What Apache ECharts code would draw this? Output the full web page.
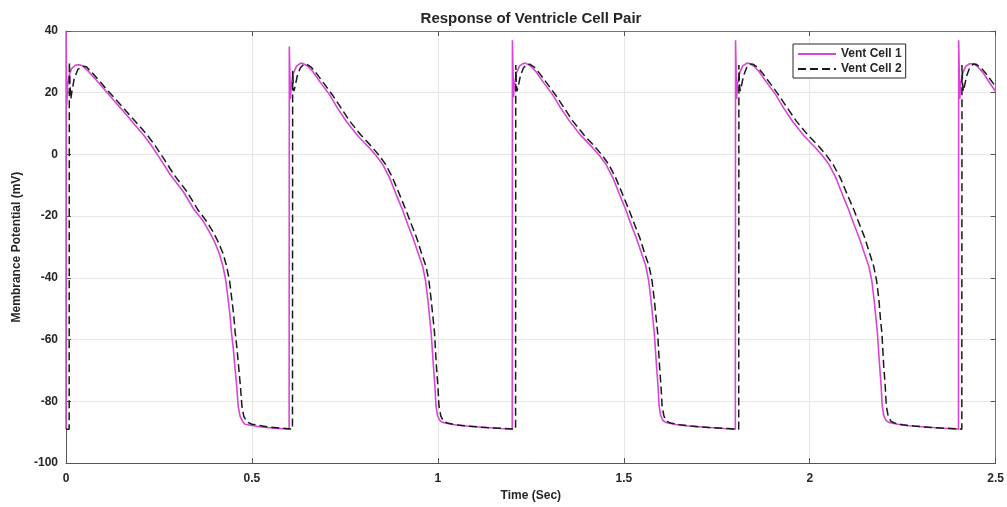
<!DOCTYPE html>
<html>
<head>
<meta charset="utf-8">
<script src="https://cdn.jsdelivr.net/npm/echarts@6/dist/echarts.min.js"></script>
<style>
  html, body { margin: 0; padding: 0; background: #ffffff; }
  #chart { width: 1007px; height: 507px; }
</style>
</head>
<body>
<div id="chart"></div>
<script>
// Membrane potential of a coupled pair of ventricular cells (time in s, potential in mV)

// Vent Cell 1
const cell1Time = [
  // beat 1
  0, 0.0003, 0.002, 0.004, 0.008, 0.015, 0.025, 0.035, 0.045, 0.060, 0.080, 0.100, 0.130, 0.163, 0.185,
  0.208, 0.230, 0.252, 0.280, 0.315, 0.345, 0.369, 0.387, 0.400, 0.412, 0.422, 0.430, 0.436, 0.441,
  0.445, 0.450, 0.454, 0.459, 0.463, 0.468, 0.475, 0.481, 0.520, 0.560, 0.600,
  // beat 2
  0.6005, 0.6035, 0.606, 0.612, 0.620, 0.630, 0.637, 0.650, 0.664, 0.685, 0.709, 0.730, 0.754, 0.785,
  0.816, 0.835, 0.852, 0.870, 0.888, 0.905, 0.919, 0.933, 0.947, 0.959, 0.967, 0.973, 0.978, 0.982,
  0.988, 0.992, 0.995, 0.999, 1.005, 1.013, 1.040, 1.067, 1.120, 1.170, 1.200,
  // beat 3
  1.2005, 1.2035, 1.206, 1.212, 1.220, 1.230, 1.237, 1.250, 1.264, 1.285, 1.309, 1.330, 1.354, 1.385,
  1.416, 1.435, 1.452, 1.470, 1.488, 1.505, 1.519, 1.533, 1.547, 1.559, 1.567, 1.573, 1.578, 1.582,
  1.588, 1.592, 1.595, 1.599, 1.605, 1.613, 1.640, 1.667, 1.720, 1.770, 1.800,
  // beat 4
  1.8005, 1.8035, 1.806, 1.812, 1.820, 1.830, 1.837, 1.850, 1.864, 1.885, 1.909, 1.930, 1.954, 1.985,
  2.016, 2.035, 2.052, 2.070, 2.088, 2.105, 2.119, 2.133, 2.147, 2.159, 2.167, 2.173, 2.178, 2.182,
  2.188, 2.192, 2.195, 2.199, 2.205, 2.213, 2.240, 2.267, 2.320, 2.370, 2.400,
  // beat 5
  2.4005, 2.4035, 2.406, 2.412, 2.420, 2.430, 2.440, 2.452, 2.466, 2.485, 2.500
];
const cell1Mv = [
  // beat 1
  -89, 40, 16, 22, 25.5, 27.8, 28.9, 29.1, 28.7, 27, 24.3, 21.5, 17.3, 12.8, 9.6,
  6.4, 2.8, -1.2, -6.5, -12, -18, -21.6, -25.4, -28.5, -32, -36.2, -41, -47, -52,
  -57.7, -63, -68.5, -75, -81.5, -84.8, -86.5, -87.4, -88.2, -88.7, -89,
  // beat 2
  35, 18, 23, 26.5, 28.6, 29.5, 29.5, 28.6, 26.8, 23.2, 19.3, 15.0, 10.7, 6.0,
  2.1, -0.5, -3.3, -7.5, -13, -18, -22.7, -27, -32, -36.2, -41, -47, -53, -57.8,
  -68.5, -75, -81.5, -84.5, -86.2, -86.8, -87.5, -87.9, -88.4, -88.8, -89,
  // beat 3
  37, 18.5, 23, 26.6, 28.7, 29.5, 29.5, 28.6, 26.8, 23.2, 19.3, 15.1, 10.8, 6.1,
  2.2, -0.4, -3.2, -7.4, -12.8, -17.8, -22.5, -26.8, -31.8, -36, -41, -47, -53, -57.8,
  -68.5, -75, -81.5, -84.5, -86.2, -86.8, -87.5, -87.9, -88.4, -88.8, -89,
  // beat 4
  37, 18, 23, 26.6, 28.7, 29.5, 29.5, 28.6, 26.8, 23.2, 19.3, 15.0, 10.7, 6.0,
  2.1, -0.5, -3.3, -7.5, -13, -18, -22.7, -27, -32, -36.2, -41, -47, -53, -57.8,
  -68.5, -75, -81.5, -84.5, -86.2, -86.8, -87.5, -87.9, -88.4, -88.8, -89,
  // beat 5
  37, 18, 23, 26.5, 28.6, 29.4, 29.4, 28.4, 26.5, 23, 20.4
];

// Vent Cell 2
const cell2Time = [
  // beat 1
  0, 0.0085, 0.009, 0.011, 0.013, 0.016, 0.022, 0.032, 0.045, 0.055, 0.070, 0.090, 0.110, 0.140, 0.172,
  0.195, 0.218, 0.240, 0.262, 0.290, 0.325, 0.355, 0.380, 0.397, 0.410, 0.422, 0.432, 0.440, 0.446,
  0.451, 0.455, 0.460, 0.464, 0.469, 0.473, 0.478, 0.486, 0.500, 0.540, 0.580, 0.609,
  // beat 2
  0.6095, 0.611, 0.613, 0.616, 0.622, 0.630, 0.640, 0.648, 0.660, 0.672, 0.695, 0.718, 0.740, 0.763,
  0.793, 0.823, 0.842, 0.860, 0.878, 0.897, 0.914, 0.929, 0.943, 0.956, 0.968, 0.976, 0.982, 0.987,
  0.991, 0.996, 1.000, 1.003, 1.008, 1.015, 1.025, 1.050, 1.080, 1.130, 1.180, 1.209,
  // beat 3
  1.2095, 1.211, 1.213, 1.216, 1.222, 1.230, 1.240, 1.248, 1.260, 1.272, 1.295, 1.318, 1.340, 1.363,
  1.393, 1.423, 1.442, 1.460, 1.478, 1.497, 1.514, 1.529, 1.543, 1.556, 1.568, 1.576, 1.582, 1.587,
  1.591, 1.596, 1.600, 1.603, 1.608, 1.615, 1.625, 1.650, 1.680, 1.730, 1.780, 1.809,
  // beat 4
  1.8095, 1.811, 1.813, 1.816, 1.822, 1.830, 1.840, 1.848, 1.860, 1.872, 1.895, 1.918, 1.940, 1.964,
  1.995, 2.026, 2.045, 2.063, 2.082, 2.101, 2.119, 2.134, 2.148, 2.161, 2.172, 2.180, 2.186, 2.190,
  2.194, 2.199, 2.203, 2.206, 2.211, 2.218, 2.228, 2.250, 2.280, 2.330, 2.380, 2.409,
  // beat 5
  2.4095, 2.411, 2.413, 2.416, 2.422, 2.430, 2.440, 2.448, 2.460, 2.472, 2.495, 2.500
];
const cell2Mv = [
  // beat 1
  -89, -89, 30, 22, 18, 20.5, 24.5, 27.6, 28.6, 28.4, 26.5, 23.8, 21, 17, 12.6,
  9.6, 6.4, 2.8, -1.2, -6.5, -12, -18, -22, -25.4, -28.5, -32, -36.2, -41, -47,
  -52, -57.7, -63, -68.5, -75, -81.5, -84.8, -86.6, -87.4, -88.2, -88.7, -89,
  // beat 2
  27, 23, 20.5, 22, 25.5, 28, 29.3, 29.2, 28.2, 26.5, 22.8, 19.0, 15.0, 10.8,
  6.3, 2.4, -0.3, -3.3, -7.5, -13, -18, -22.7, -27, -32, -36.2, -41, -47, -53,
  -57.8, -68.5, -75, -81.5, -84.8, -86.4, -87.0, -87.6, -88.0, -88.5, -88.8, -89,
  // beat 3
  29, 23, 20.5, 22, 25.5, 28, 29.3, 29.2, 28.2, 26.5, 22.8, 19.0, 15.0, 10.8,
  6.3, 2.4, -0.3, -3.3, -7.5, -13, -18, -22.7, -27, -32, -36.2, -41, -47, -53,
  -57.8, -68.5, -75, -81.5, -84.8, -86.4, -87.0, -87.6, -88.0, -88.5, -88.8, -89,
  // beat 4
  29, 23, 20.5, 22, 25.5, 28, 29.3, 29.2, 28.2, 26.5, 22.8, 19.0, 15.0, 10.8,
  6.3, 2.4, -0.3, -3.3, -7.5, -13, -18, -22.7, -27, -32, -36.2, -41, -47, -53,
  -57.8, -68.5, -75, -81.5, -84.8, -86.4, -87.0, -87.6, -88.0, -88.5, -88.8, -89,
  // beat 5
  29, 23, 20.5, 22, 25.5, 28, 29.3, 29.2, 28.2, 26.5, 22.8, 22
];

const seriesNames = ['Vent Cell 1', 'Vent Cell 2'];
const xTicks = { min: 0, max: 2.5, step: 0.5 };
const yTicks = { min: -100, max: 40, step: 20 };

const pairs = (ts, vs) => ts.map((t, i) => [t, vs[i]]);

const FONT = "'Liberation Sans', Arial, Helvetica, sans-serif";
const AX = '#555555';
const TXT = '#262626';

const labelStyle = { color: TXT, fontFamily: FONT, fontWeight: 'bold', fontSize: 12 };

function mainAxis(range, extra) {
  return Object.assign({
    type: 'value',
    min: range.min, max: range.max, interval: range.step,
    axisLine: { show: true, onZero: false, lineStyle: { color: AX, width: 1 } },
    axisTick: { show: true, inside: true, length: 5, lineStyle: { color: AX } },
    splitLine: { show: true, lineStyle: { color: '#e6e6e6', width: 1 } },
    axisLabel: Object.assign({ margin: 8 }, labelStyle),
    nameTextStyle: { color: TXT, fontFamily: FONT, fontWeight: 'bold', fontSize: 12 }
  }, extra);
}
function boxAxis(range, position) {
  return {
    type: 'value', position,
    min: range.min, max: range.max, interval: range.step,
    axisLine: { show: true, onZero: false, lineStyle: { color: '#777777', width: 1 } },
    axisTick: { show: true, inside: true, length: 5, lineStyle: { color: AX } },
    splitLine: { show: false },
    axisLabel: { show: false }
  };
}

const chart = echarts.init(document.getElementById('chart'), null, { renderer: 'canvas' });
chart.setOption({
  animation: false,
  backgroundColor: '#ffffff',
  title: {
    text: 'Response of Ventricle Cell Pair',
    left: 531, top: 11, textAlign: 'center', padding: 0,
    textStyle: { color: TXT, fontFamily: FONT, fontWeight: 'bold', fontSize: 15 }
  },
  grid: { left: 66, top: 31, width: 931, height: 433, show: false },
  legend: {
    data: seriesNames,
    orient: 'vertical',
    left: 793, top: 44,
    padding: [4, 4, 3, 4],
    itemWidth: 38, itemHeight: 14, itemGap: 3,
    // legend keys show only the line stroke
    itemStyle: { opacity: 0 },
    backgroundColor: '#ffffff',
    borderColor: '#262626', borderWidth: 1, borderRadius: 0,
    textStyle: { color: TXT, fontFamily: FONT, fontWeight: 'bold', fontSize: 12 }
  },
  xAxis: [
    mainAxis(xTicks, {
      position: 'bottom',
      name: 'Time (Sec)', nameLocation: 'middle', nameGap: 26,
      axisLabel: Object.assign({ margin: 10 }, labelStyle)
    }),
    boxAxis(xTicks, 'top')
  ],
  yAxis: [
    mainAxis(yTicks, {
      position: 'left',
      name: 'Membrance Potential (mV)', nameLocation: 'middle', nameGap: 38
    }),
    boxAxis(yTicks, 'right')
  ],
  series: [
    {
      name: seriesNames[0], type: 'line', symbol: 'none', smooth: false,
      data: pairs(cell1Time, cell1Mv),
      lineStyle: { color: '#d845d8', width: 1.6 },
      itemStyle: { color: '#d845d8', opacity: 0 },
      clip: true, z: 2
    },
    {
      name: seriesNames[1], type: 'line', symbol: 'none', smooth: false,
      data: pairs(cell2Time, cell2Mv),
      lineStyle: { color: '#1a1a1a', width: 1.5, type: [8, 4] },
      itemStyle: { color: '#1a1a1a', opacity: 0 },
      clip: true, z: 3
    }
  ]
});
</script>
</body>
</html>
